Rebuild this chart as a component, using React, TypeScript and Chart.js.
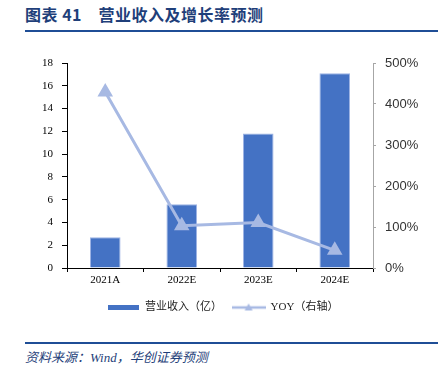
import React, { useEffect, useRef } from "react";
import { Chart, registerables } from "chart.js";

Chart.register(...registerables);

const categories = ["2021A", "2022E", "2023E", "2024E"];
const revenue = [2.7, 5.6, 11.8, 17.1];
const yoy = [429, 103, 111, 43];
const leftTicks = { min: 0, max: 18, step: 2 };
const rightTicks = { min: 0, max: 500, step: 100 };
const seriesNames = ["营业收入（亿）", "YOY（右轴）"];

const BAR_COLOR = "#4472C4";
const LINE_COLOR = "#A7B9E3";
const NAVY = "#1F3F7A";

function makeBarIcon() {
  const c = document.createElement("canvas");
  c.width = 31;
  c.height = 5;
  const ctx = c.getContext("2d")!;
  ctx.fillStyle = BAR_COLOR;
  ctx.fillRect(0, 0, 31, 5);
  return c;
}

function makeLineIcon() {
  const c = document.createElement("canvas");
  c.width = 34;
  c.height = 10;
  const ctx = c.getContext("2d")!;
  ctx.strokeStyle = LINE_COLOR;
  ctx.lineWidth = 2.5;
  ctx.beginPath();
  ctx.moveTo(0, 5);
  ctx.lineTo(34, 5);
  ctx.stroke();
  ctx.fillStyle = LINE_COLOR;
  ctx.beginPath();
  ctx.moveTo(17, 1);
  ctx.lineTo(21, 8);
  ctx.lineTo(13, 8);
  ctx.closePath();
  ctx.fill();
  return c;
}

export default function App() {
  const ref = useRef<HTMLCanvasElement>(null);
  useEffect(() => {
    if (!ref.current) return;
    const barIcon = makeBarIcon();
    const lineIcon = makeLineIcon();
    const serif = "'Liberation Serif', 'Times New Roman', 'Noto Sans CJK SC', serif";
    const chart = new Chart(ref.current, {
      type: "bar",
      data: {
        labels: categories,
        datasets: [
          {
            type: "bar",
            label: seriesNames[0],
            data: revenue,
            backgroundColor: BAR_COLOR,
            borderColor: "#9DB3E4",
            borderWidth: { left: 1, right: 1, top: 1, bottom: 0 },
            yAxisID: "y",
            order: 1,
            barPercentage: 1,
            categoryPercentage: 0.4,
            pointStyle: barIcon,
          } as any,
          {
            type: "line",
            label: seriesNames[1],
            data: yoy,
            borderColor: LINE_COLOR,
            backgroundColor: LINE_COLOR,
            borderWidth: 3,
            pointStyle: "triangle",
            pointRadius: 6,
            pointBackgroundColor: LINE_COLOR,
            pointBorderColor: LINE_COLOR,
            yAxisID: "y1",
            order: 0,
          } as any,
        ],
      },
      options: {
        responsive: false,
        animation: false,
        devicePixelRatio: 1,
        layout: { padding: { top: 23, left: 0, right: 0, bottom: 7 } },
        plugins: {
          tooltip: { enabled: false },
          legend: {
            position: "bottom",
            labels: {
              usePointStyle: true,
              pointStyleWidth: 33,
              padding: 10,
              color: "#222",
              font: { family: serif, size: 11 },
              generateLabels: (ch: any) =>
                ch.data.datasets.map((ds: any, i: number) => ({
                  text: ds.label,
                  pointStyle: i === 0 ? barIcon : lineIcon,
                  fillStyle: "transparent",
                  strokeStyle: "transparent",
                  lineWidth: 0,
                  fontColor: "#222",
                  datasetIndex: i,
                  hidden: false,
                })),
            },
          },
        },
        scales: {
          x: {
            grid: {
              display: true,
              drawOnChartArea: false,
              drawTicks: true,
              tickLength: 4,
              color: "#000",
              offset: true,
            },
            border: { color: "#000", width: 1 },
            ticks: { color: "#000", font: { family: serif, size: 11 }, padding: 2 },
            afterFit: (s: any) => {
              s.height = 24;
            },
          },
          y: {
            position: "left",
            min: leftTicks.min,
            max: leftTicks.max,
            ticks: { stepSize: leftTicks.step, color: "#000", font: { family: serif, size: 11 }, padding: 9 },
            grid: { drawOnChartArea: false, drawTicks: true, tickLength: 5, color: "#000" },
            border: { color: "#000", width: 1 },
            afterFit: (s: any) => {
              s.width = 67;
            },
          },
          y1: {
            position: "right",
            min: rightTicks.min,
            max: rightTicks.max,
            ticks: {
              stepSize: rightTicks.step,
              color: "#333",
              font: { family: "'Liberation Sans', Arial, sans-serif", size: 13 },
              padding: 9,
              callback: (v: any) => v + "%",
            },
            grid: { drawOnChartArea: false, drawTicks: true, tickLength: 3, color: "#A6A6A6" },
            border: { color: "#A6A6A6", width: 1 },
            afterFit: (s: any) => {
              s.width = 72;
            },
          },
        },
      },
    });
    return () => chart.destroy();
  }, []);

  return (
    <div
      style={{
        position: "fixed",
        left: 0,
        top: 0,
        width: 445,
        height: 375,
        background: "#fff",
        overflow: "hidden",
      }}
    >
      <div
        style={{
          position: "absolute",
          left: 25,
          top: 3,
          fontFamily: "'Noto Sans CJK SC', sans-serif",
          fontWeight: 700,
          fontSize: 16,
          color: NAVY,
          lineHeight: "22px",
          whiteSpace: "pre",
          letterSpacing: 0.5,
        }}
      >
        图表 41{"    "}营业收入及增长率预测
      </div>
      <div style={{ position: "absolute", left: 25, top: 30, width: 413, height: 2, background: "#1F4E96" }} />
      <canvas
        ref={ref}
        width={445}
        height={290}
        style={{ position: "absolute", left: 0, top: 40, width: 445, height: 290 }}
      />
      <div style={{ position: "absolute", left: 25, top: 342, width: 413, height: 2, background: "#1F4E96" }} />
      <div
        style={{
          position: "absolute",
          left: 25,
          top: 349,
          fontFamily: "'Liberation Serif', 'Noto Sans CJK SC', serif",
          fontStyle: "italic",
          fontSize: 13,
          color: NAVY,
          lineHeight: "18px",
          whiteSpace: "pre",
        }}
      >
        资料来源：Wind，华创证券预测
      </div>
    </div>
  );
}
